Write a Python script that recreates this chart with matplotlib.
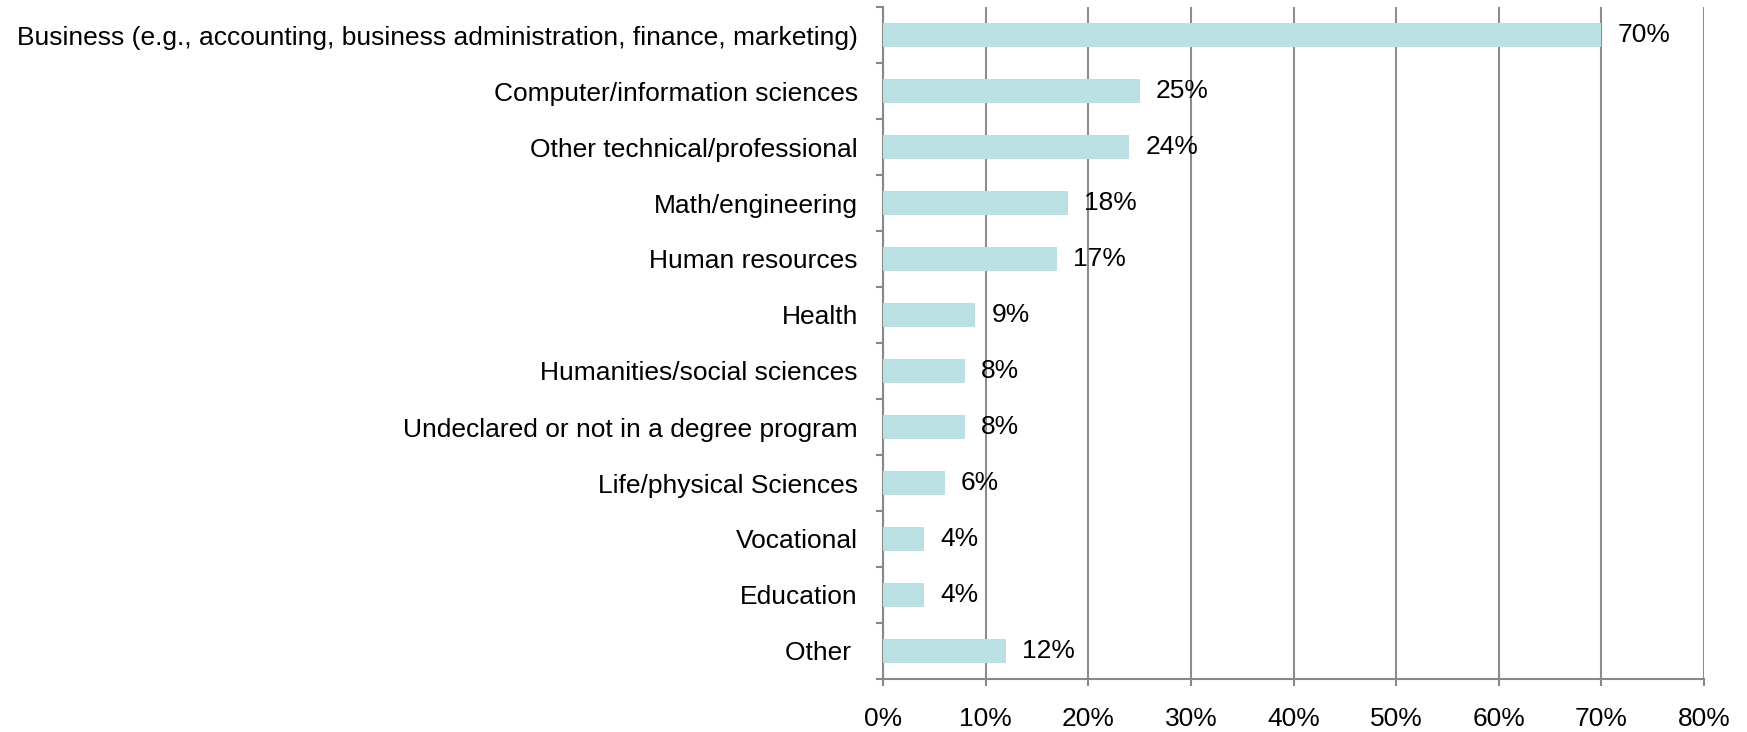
import matplotlib.pyplot as plt
import numpy as np
from matplotlib.ticker import FixedLocator

plt.rcParams.update({
    'font.family': ['Liberation Sans', 'DejaVu Sans'],
    'font.size': 19,
})

categories = [
    "Business (e.g., accounting, business administration, finance, marketing)",
    "Computer/information sciences",
    "Other technical/professional",
    "Math/engineering",
    "Human resources",
    "Health",
    "Humanities/social sciences",
    "Undeclared or not in a degree program",
    "Life/physical Sciences",
    "Vocational",
    "Education",
    "Other ",
]
values = [70, 25, 24, 18, 17, 9, 8, 8, 6, 4, 4, 12]
xticks = [0, 10, 20, 30, 40, 50, 60, 70, 80]

fig = plt.figure(figsize=(17.47, 7.32), dpi=100)
ax = fig.add_axes([883 / 1747, 1 - 679 / 732, (1704 - 883) / 1747, (679 - 7) / 732])

y = np.arange(len(categories))
ax.barh(y, values, height=0.42, color='#BBE0E3', zorder=3)
for yi, v in zip(y, values):
    ax.text(v + 1.55, yi, f"{v}%", va='center', ha='left', fontsize=19, color='black', zorder=4)

ax.set_ylim(len(categories) - 0.5, -0.5)
ax.set_xlim(0, 80)
ax.set_yticks(y)
ax.set_yticklabels(categories)
ax.yaxis.set_minor_locator(FixedLocator(np.arange(-0.5, len(categories), 1)))
ax.tick_params(axis='y', which='major', length=0, pad=18)
ax.tick_params(axis='y', which='minor', length=5, width=1.5, color='#888888', direction='out')
ax.set_xticks(xticks)
ax.set_xticklabels([f"{t}%" for t in xticks])
ax.tick_params(axis='x', length=5, width=1.5, color='#888888', pad=15)

ax.grid(axis='x', color='#8c8c8c', linewidth=1.5, zorder=0)
for s in ['top', 'right']:
    ax.spines[s].set_visible(False)
for s in ['left', 'bottom']:
    ax.spines[s].set_color('#888888')
    ax.spines[s].set_linewidth(1.5)

fig.savefig("out.png", dpi=100)
